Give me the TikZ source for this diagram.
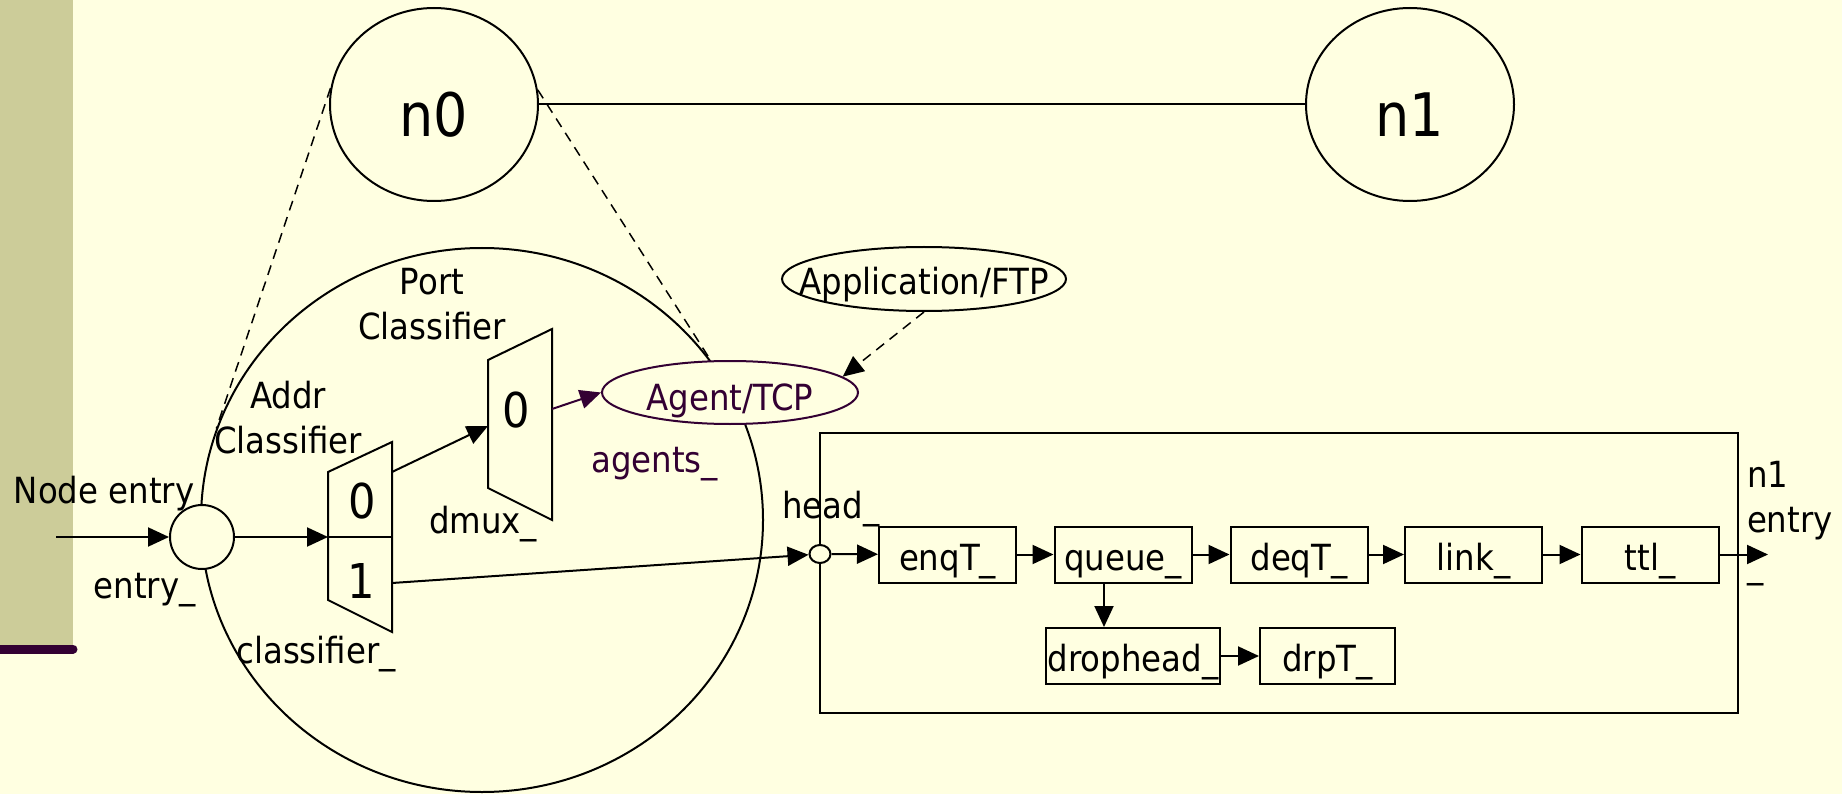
\documentclass[tikz,border=0pt]{standalone}
\usepackage{fontspec}
\setmainfont{DejaVu Sans Condensed}
\usetikzlibrary{shapes.geometric,arrows.meta}
\definecolor{paleyellow}{RGB}{255,255,225}
\definecolor{khaki}{RGB}{204,204,153}
\definecolor{darkplum}{RGB}{51,0,51}
\begin{document}
\begin{tikzpicture}
    [
    x=1pt,y=-1pt,line width=2pt,
    lbl/.style={inner sep=0pt,anchor=base,font=\fontsize{36}{45}\selectfont},
    digit/.style={inner sep=0pt,anchor=base,font=\fontsize{48}{50}\selectfont},
    bignode/.style={ellipse,draw,fill=paleyellow,inner sep=0pt,minimum width=208pt,minimum height=193pt,font=\fontsize{60}{70}\selectfont,text height=65pt,text depth=0pt},
    obj/.style={ellipse,draw,fill=paleyellow,inner sep=0pt,font=\fontsize{36}{45}\selectfont,text depth=0pt},
    blk/.style={rectangle,draw,fill=paleyellow,inner sep=0pt,minimum height=56pt,font=\fontsize{36}{45}\selectfont,text height=31pt,text depth=0pt},
    arr/.style={-{Triangle[length=21pt,width=19pt]}},
    zoomline/.style={dash pattern=on 10pt off 7pt,line width=1.5pt}
    ]
    \useasboundingbox (0,0) rectangle (1842,794);
    \fill[paleyellow] (0,0) rectangle (1842,794);
    \fill[khaki] (0,0) rectangle (73,649);
    \draw[darkplum,line width=9pt,line cap=round] (0,649) -- (73,649);
    % topology
    \node[bignode] (n0) at (434,104.5) {n0};
    \node[bignode] (n1) at (1410,104.5) {n1};
    \draw (n0) -- (n1);
    % inside of n0
    \node[ellipse,draw,inner sep=0pt,minimum width=562pt,minimum height=544pt] (n0zoom) at (482,520) {};
    \draw[zoomline] (n0.171) -- (n0zoom.161);
    \draw[zoomline] (n0.8) -- (n0zoom.35);
    \node[obj,draw=darkplum,text=darkplum,minimum width=256pt,minimum height=63pt,text height=35pt,inner xsep=-12pt] (agent) at (730,392.5) {Agent/TCP};
    \node[obj,minimum width=284pt,minimum height=64pt,text height=32pt,inner xsep=-32pt] (app) at (924,279) {Application/FTP};
    \draw[arr,zoomline] (app.south) -- (agent.8);
    \node[obj,minimum size=64pt] (entry) at (202,537) {};
    \coordinate (nodein) at (56,537);
    \draw[arr] (nodein) -- (entry);
    \node[lbl] (entrytxt) at (104,503) {Node entry};
    \node[lbl] (entryname) at (144.5,598) {entry\_};
    % address classifier
    \draw (328,472) -- (392,442) -- (392,632) -- (328,600) -- cycle;
    \draw (328,537) -- (392,537);
    \coordinate (addrin) at (328,537);
    \coordinate (addrout0) at (392,472);
    \coordinate (addrout1) at (392,583);
    \node[digit] (addr0) at (362,518) {0};
    \node[digit] (addr1) at (361,598) {1};
    \draw[arr] (entry) -- (addrin);
    % port classifier
    \draw (488,360) -- (552,329) -- (552,520) -- (488,488) -- cycle;
    \coordinate (portin) at (488,426);
    \coordinate (portout) at (552,409);
    \node[digit] (port0) at (516,427) {0};
    \draw[arr] (addrout0) -- (portin);
    \draw[arr,darkplum] (portout) -- (agent.west);
    \node[lbl,align=center] (addrtxt) at (288,453) {Addr\\Classifier};
    \node[lbl,align=center] (porttxt) at (432,340) {Port\\Classifier};
    \node[lbl] (dmuxtxt) at (483,533) {dmux\_};
    \node[lbl] (classtxt) at (316,663) {classifier\_};
    \node[lbl,text=darkplum] (agentstxt) at (654.5,472) {agents\_};
    % link
    \node[draw,inner sep=0pt,minimum width=918pt,minimum height=280pt] (linkbox) at (1279,573) {};
    \node[ellipse,draw,fill=paleyellow,inner sep=0pt,minimum width=21pt,minimum height=18pt] (head) at (820,554) {};
    \node[lbl] (headtxt) at (831,518) {head\_};
    \draw[arr] (addrout1) -- (head);
    \node[blk,minimum width=137pt] (enq) at (947.5,554.5) {enqT\_};
    \node[blk,minimum width=137pt] (queue) at (1123,554.5) {queue\_};
    \node[blk,minimum width=137pt] (deq) at (1299,554.5) {deqT\_};
    \node[blk,minimum width=137pt] (link) at (1473.5,554.5) {link\_};
    \node[blk,minimum width=137pt] (ttl) at (1650,554.5) {ttl\_};
    \node[blk,minimum width=174pt] (drophead) at (1133,656) {drophead\_};
    \node[blk,minimum width=135pt] (drpt) at (1327.5,656) {drpT\_};
    \coordinate (n1in) at (1768,554.5);
    \draw[arr] (head) -- (enq);
    \draw[arr] (enq) -- (queue);
    \draw[arr] (queue) -- (deq);
    \draw[arr] (deq) -- (link);
    \draw[arr] (link) -- (ttl);
    \draw[arr] (ttl) -- (n1in);
    \draw[arr] ([xshift=-19pt]queue.south) -- ([xshift=-19pt]queue.south |- drophead.north);
    \draw[arr] (drophead) -- (drpt);
    \node[lbl,anchor=base west,align=left] (n1entry) at (1746,577) {n1\\entry\\\_};
  \end{tikzpicture}
\end{document}
